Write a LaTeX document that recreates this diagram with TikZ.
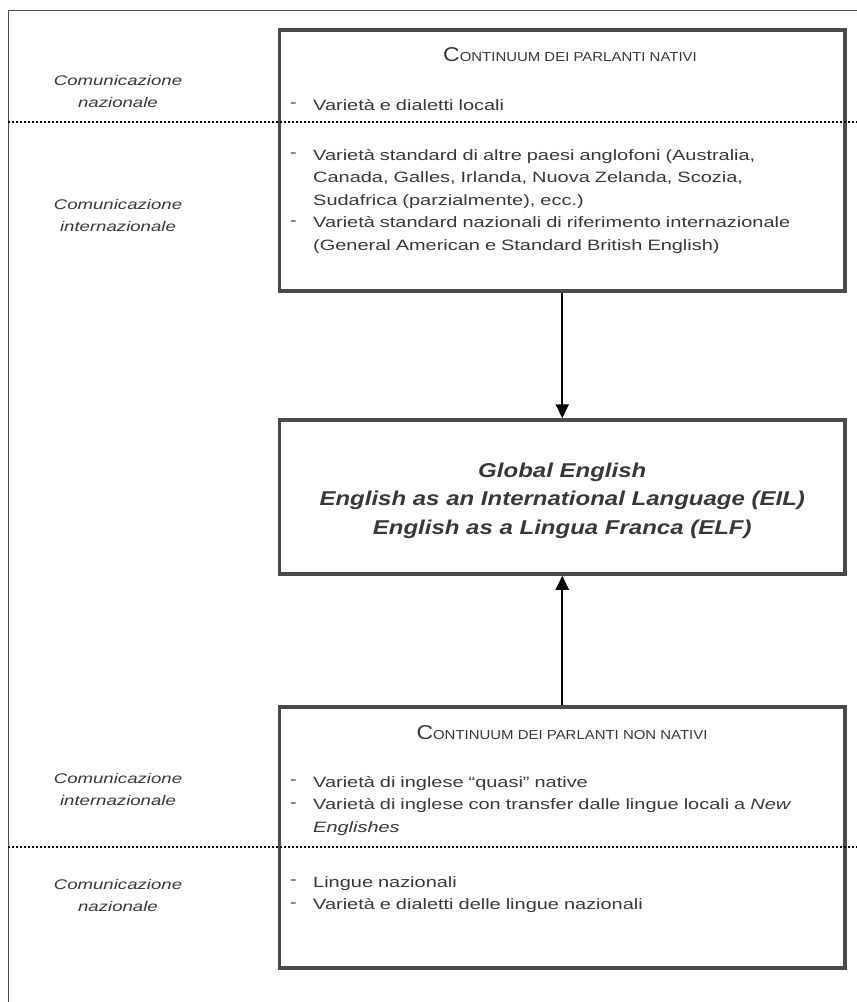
\documentclass[tikz,border=0pt]{standalone}
\usepackage{fontspec}
\setmainfont{Liberation Sans}[FakeStretch=1.33]
\newfontfamily\titolofont{Liberation Sans}[FakeStretch=1.15]
\newfontfamily\centrofont{Liberation Sans}[FakeStretch=1.2]
\usetikzlibrary{arrows.meta,positioning,calc}
\definecolor{bordo}{HTML}{4A4A4A}
\definecolor{testo}{HTML}{383838}
\newcommand{\voce}[1]{\hangindent=23pt\hangafter=1\noindent\makebox[23pt][l]{\raisebox{.3ex}{-}}#1\par}
\newcommand{\maiusc}[2]{{\fontsize{20}{22}\selectfont #1}{\fontsize{13}{15}\selectfont #2}}
\tikzset{riquadro/.style={draw=bordo, line width=3.5pt, minimum width=565.5pt, inner sep=0pt},
  elenco/.style={anchor=base west, inner sep=0pt, text width=550pt, align=left, text=testo,
    font=\fontsize{15}{22.5}\selectfont},
  etichetta/.style={inner sep=0pt, text=testo, align=center, font=\itshape\fontsize{14}{22}\selectfont},
  titolo/.style={anchor=base, inner sep=0pt, text=testo, font=\titolofont},
  separatore/.style={line width=2.6pt, dash pattern=on 2.2pt off 1.8pt},
  freccia/.style={line width=2pt, -{Triangle[width=13pt,length=14pt]}}}

\begin{document}
\begin{tikzpicture}[x=1pt,y=-1pt]
        \useasboundingbox (0,0) rectangle (857,1002);
        \draw[line width=1pt, color=bordo] (857,10.5) -- (8,10.5) -- (8,1002);

        \node[riquadro, minimum height=261pt] (nativi) at (562.25,160.5) {};
        \node[riquadro, minimum height=154pt] (centro) at (562.25,497) {};
        \node[riquadro, minimum height=261pt] (nonnativi) at (562.25,837.5) {};

        \coordinate (sx1) at (8,122);
        \coordinate (dx1) at (857,122);
        \coordinate (sx2) at (8,847);
        \coordinate (dx2) at (857,847);
        \draw[separatore] (sx1) -- (dx1);
        \draw[separatore] (sx2) -- (dx2);

        \node[titolo] (t1) at (570,61) {\maiusc{C}{ONTINUUM DEI PARLANTI NATIVI}};
        \node[elenco] (v1) at (290,110) {\voce{Varietà e dialetti locali}};
        \node[elenco] (v2) at (290,160) {\voce{Varietà standard di altre paesi anglofoni (Australia,\newline
            Canada, Galles, Irlanda, Nuova Zelanda, Scozia,\newline Sudafrica (parzialmente), ecc.)}%
            \voce{Varietà standard nazionali di riferimento internazionale\newline
            (General American e Standard British English)}};

        \node[anchor=base, inner sep=0pt, text width=560pt, align=center, text=testo,
              font=\centrofont\bfseries\itshape\fontsize{20}{28.5}\selectfont] (eil) at (562.25,477)
              {Global English\\ English as an International Language (EIL)\\ English as a Lingua Franca (ELF)};

        \node[titolo] (t2) at (562,739) {\maiusc{C}{ONTINUUM DEI PARLANTI NON NATIVI}};
        \node[elenco] (v3) at (290,787) {\voce{Varietà di inglese “quasi” native}%
            \voce{Varietà di inglese con transfer dalle lingue locali a \textit{New}\newline \textit{Englishes}}};
        \node[elenco] (v4) at (290,887) {\voce{Lingue nazionali}\voce{Varietà e dialetti delle lingue nazionali}};

        \node[etichetta] (e1) at (118,91) {Comunicazione\\ nazionale};
        \node[etichetta] (e2) at (118,215) {Comunicazione\\ internazionale};
        \node[etichetta] (e3) at (118,789) {Comunicazione\\ internazionale};
        \node[etichetta] (e4) at (118,895) {Comunicazione\\ nazionale};

        \draw[freccia] (nativi.south) -- (centro.north);
        \draw[freccia] (nonnativi.north) -- (centro.south);
    \end{tikzpicture}
\end{document}
